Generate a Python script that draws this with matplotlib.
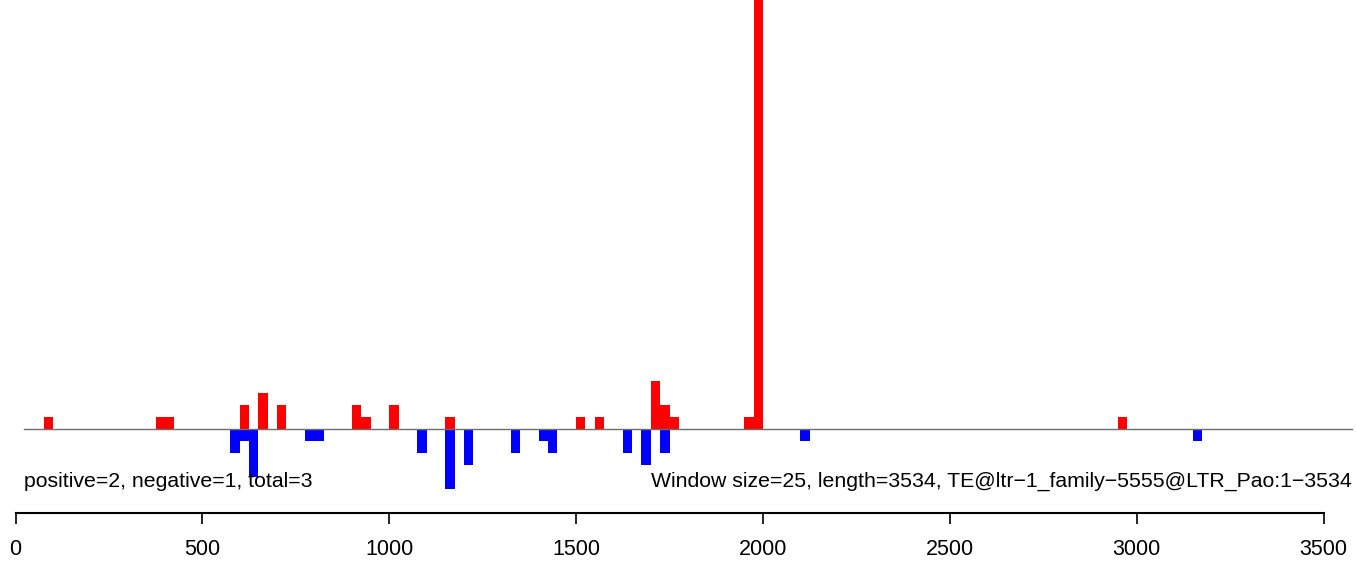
import matplotlib
matplotlib.use('Agg')
import matplotlib.pyplot as plt

# window starts (bp) and read counts, window size 25
pos_start = [75, 375, 400, 600, 650, 700, 900, 925, 1000, 1150, 1500, 1550,
             1700, 1725, 1750, 1950, 1975, 2950]
pos_count = [1, 1, 1, 2, 3, 2, 2, 1, 2, 1, 1, 1, 4, 2, 1, 1, 38, 1]
neg_start = [575, 600, 625, 775, 800, 1075, 1150, 1200, 1325, 1400, 1425,
             1625, 1675, 1725, 2100, 3150]
neg_count = [2, 1, 4, 1, 1, 2, 5, 3, 2, 1, 2, 2, 3, 2, 1, 1]
win = 25
seq_len = 3534
left_label = 'positive=2, negative=1, total=3'
right_label = 'Window size=25, length=3534, TE@ltr\u22121_family\u22125555@LTR_Pao:1\u22123534'
xticks = [0, 500, 1000, 1500, 2000, 2500, 3000, 3500]

plt.rcParams['font.family'] = ['Liberation Sans', 'DejaVu Sans']

fig = plt.figure(figsize=(13.56, 5.63), dpi=100)
ax = fig.add_axes([0, 0, 1, 1])
ppu = 1308 / 3500.0          # pixels per bp
x0 = -15.5 / ppu
x1 = (1356 - 15.5) / ppu
ax.set_xlim(x0, x1)
ax.set_ylim(-134.5 / 12, (563 - 134.5) / 12)

ax.bar(pos_start, pos_count, width=win, align='edge', color='#FF0000', linewidth=0)
ax.bar(neg_start, [-c for c in neg_count], width=win, align='edge', color='#0000FF', linewidth=0)

xa = 24 / ppu + x0
xb = 1352 / ppu + x0
ax.plot([xa, xb], [0, 0], color='#6e6e6e', linewidth=1, zorder=3)

ax.text(xa, -4.4, left_label, ha='left', va='center', fontsize=15.3)
ax.text(xb, -4.4, right_label, ha='right', va='center', fontsize=15.3)

for s in ['top', 'left', 'right']:
    ax.spines[s].set_visible(False)
ax.spines['bottom'].set_position(('axes', 50 / 563.0))
ax.spines['bottom'].set_bounds(0, 3500)
ax.spines['bottom'].set_linewidth(1.5)
ax.set_xticks(xticks)
ax.set_xticklabels([str(t) for t in xticks], fontsize=15.5)
ax.tick_params(axis='x', length=8, width=1.2, pad=11)
ax.set_yticks([])

fig.savefig('out.png', dpi=100)
